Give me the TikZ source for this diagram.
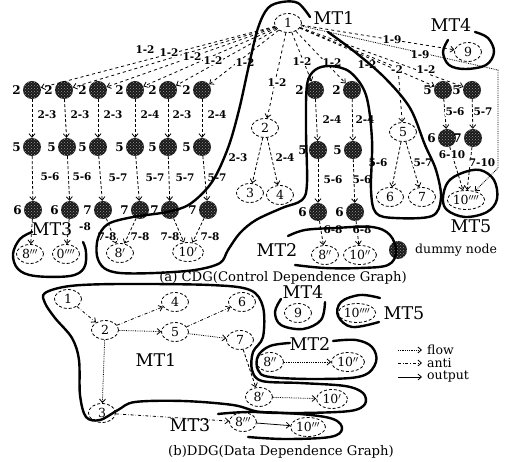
\documentclass[tikz,border=0pt]{standalone}
\usepackage{fontspec}
\setmainfont{DejaVu Serif}
\usetikzlibrary{shapes.geometric,arrows.meta,patterns}
\begin{document}
\begin{tikzpicture}[x=1pt,y=-1pt,
  real/.style={draw, densely dashed, thick, ellipse, minimum width=27pt, minimum height=19pt, inner sep=0pt, font=\fontsize{12.5}{12.5}\selectfont},
  dum/.style={circle, minimum size=18pt, inner sep=0pt, preaction={fill=black!90}, pattern=crosshatch dots, pattern color=black!40},
  dl/.style={font=\bfseries\fontsize{12}{12}\selectfont, inner sep=0pt},
  el/.style={font=\bfseries\fontsize{10.5}{11}\selectfont, inner sep=0pt},
  mt/.style={font=\fontsize{17.5}{18}\selectfont, inner sep=0pt},
  captext/.style={font=\fontsize{13.2}{13}\selectfont, inner sep=0pt},
  tip/.style={-{Straight Barb[length=3.5pt,width=6pt]}},
  cedge/.style={dashed, tip, thick},
  vedge/.style={densely dashed, tip, thick},
  outl/.style={line width=2.4pt, line cap=round, line join=round},
  flow/.style={densely dotted, tip, thick},
  anti/.style={dash dot, tip, thick},
  output/.style={solid, tip, thick}]
\useasboundingbox (0,0) rectangle (515,462);
% ---------------- CDG real nodes
\node[real] (n1) at (288,23) {1};
\node[mt] (mt1a) at (334,18) {MT1};
\node[real] (n2) at (265,128) {2};
\node[real] (n3) at (250,193) {3};
\node[real] (n4) at (280,195) {4};
\node[real] (n5) at (403,132) {5};
\node[real] (n6) at (390,197) {6};
\node[real] (n7) at (422,197) {7};
\node[real] (n9) at (468,52) {9};
\node[mt] (mt4a) at (451,25) {MT4};
\node[real,minimum width=36pt] (n10q) at (466,200) {10$''''$};
\node[mt] (mt5a) at (471,226) {MT5};
\node[real] (c8p) at (120,253) {8$'$};
\node[real,minimum width=31pt] (c10p) at (188,252) {10$'$};
\node[real] (m3a) at (30,254) {8$'''$};
\node[real] (m3b) at (66,254) {0$''''$};
\node[mt] (mt3a) at (52,229) {MT3};
\node[real] (m2a) at (325,255) {8$''$};
\node[real,minimum width=33pt] (m2b) at (360,255) {10$''$};
\node[mt] (mt2a) at (277,250) {MT2};
% ---------------- dummy nodes
\foreach \n/\x/\y/\l in {A1/32/90/2,A2/64/90/2,A3/98/90/2,A4/135/90/2,A5/168/90/2,A6/202/90/2,A7/315/90/2,A8/352/90/2,
  B1/32/147/5,B2/67/147/5,B3/98/147/5,B4/135/147/5,B5/168/147/5,B6/202/147/5,B7/318/150/5,B8/353/150/5,
  C1/33/210/6,C2/70/210/6,C3/103/210/7,C4/140/210/7,C5/170/210/7,C6/208/210/7,C7/318/212/6,C8/355/212/6,
  R1/443/90/5,R2/472/90/5,R3/447/138/6,R4/473/138/7}
  \node[dum,label={[dl,label distance=2pt]left:\l}] (\n) at (\x,\y) {};
\node[dum] (leg) at (398,250) {};
\node[anchor=west,font=\fontsize{12.5}{12}\selectfont,inner sep=0pt] (legt) at (415,250) {dummy node};
% ---------------- CDG edges
\coordinate (k5) at (398,68);
\coordinate (k10a) at (498,70);
\coordinate (k10b) at (498,168);
\foreach \t in {A1,A2,A3,A4,A5,A6,A7,A8,R1,R2} \draw[cedge] (n1) -- (\t);
\draw[cedge] (n1) -- (n2);
\draw[cedge] (n1) -- (n9);
\draw[cedge] (n1) -- (k5) -- (n5);
\draw[cedge,densely dotted] (n1) -- (k10a) -- (k10b) -- (n10q);
\foreach \a/\b in {A1/B1,A2/B2,A3/B3,A4/B4,A5/B5,A6/B6,A7/B7,A8/B8,
  B1/C1,B2/C2,B3/C3,B4/C4,B5/C5,B6/C6,B7/C7,B8/C8,
  C1/m3a,C2/m3b,C3/c8p,C4/c8p,C5/c10p,C6/c10p,C7/m2a,C8/m2b,
  n2/n3,n2/n4,n5/n6,n5/n7,R1/R3,R2/R4,R3/n10q,R4/n10q}
  \draw[vedge] (\a) -- (\b);
% ---------------- CDG edge labels
\foreach \x/\y/\t [count=\i] in {145/50/1-2,169/53/1-2,192/57/1-2,213/61/1-2,245/63/1-2,277/83/1-2,
  302/62/1-2,332/63/1-2,367/65/1-2,397/70/-2,426/70/1-2,392/40/1-9,420/55/1-9,
  47/115/2-3,80/115/2-3,113/115/2-3,150/115/2-4,182/115/2-3,217/115/2-4,332/120/2-4,365/120/2-4,
  238/158/2-3,285/158/2-4,
  50/177/5-6,82/177/5-6,118/178/5-7,155/178/5-7,185/178/5-7,217/178/5-7,333/180/5-6,362/180/5-6,
  378/163/5-6,423/163/5-7,455/112/5-6,483/112/5-7,452/155/6-10,482/163/7-10,
  107/237/7-8,140/237/7-8,170/237/7-8,210/237/7-8,85/227/-8,333/230/6-8,362/230/6-8}
  \node[el,fill=white,inner sep=0.3pt] (L\i) at (\x,\y) {\t};
% ---------------- CDG outlines
\draw[outl] plot[smooth,tension=0.55] coordinates {(310,17) (298,3) (282,2) (268,8) (258,28) (249,65) (239,110) (228,148) (212,182) (190,204) (167,212) (133,217) (108,224) (98,238) (97,256) (104,268) (120,273) (155,273) (195,270) (220,263) (228,250) (240,233) (256,220) (282,208) (302,200) (307,183) (306,130) (307,85) (315,70) (330,66) (350,72) (366,95) (372,140) (371,190) (376,213) (395,218) (432,216) (441,198) (436,170) (425,145) (410,108) (385,78) (355,52) (328,32)};
\draw[outl] plot[smooth,tension=0.6] coordinates {(288,236) (305,230) (335,228) (372,227) (390,235) (396,252) (388,265) (360,268) (325,268) (295,265)};
\draw[outl] plot[smooth,tension=0.6] coordinates {(32,232) (20,239) (13,254) (18,269) (35,276) (70,276) (84,268) (86,252) (83,242)};
\draw[outl] plot[smooth,tension=0.6] coordinates {(475,32) (488,38) (494,52) (486,65) (465,69) (449,65) (443,52) (448,40)};
\draw[outl] plot[smooth cycle,tension=0.6] coordinates {(443,198) (448,182) (462,173) (480,170) (494,180) (497,199) (487,212) (465,217) (447,210)};
\node[captext] (capa) at (283,278) {(a) CDG(Control Dependence Graph)};
% ---------------- DDG nodes
\node[real] (e1) at (68,299) {1};
\node[real] (e2) at (105,330) {2};
\node[real] (e3) at (102,413) {3};
\node[real] (e4) at (175,302) {4};
\node[real] (e5) at (175,332) {5};
\node[real] (e6) at (242,302) {6};
\node[real] (e7) at (240,340) {7};
\node[real] (e8p) at (259,397) {8$'$};
\node[real,minimum width=31pt] (e10p) at (332,399) {10$'$};
\node[real] (e9) at (298,313) {9};
\node[real,minimum width=36pt] (e10q) at (357,313) {10$''''$};
\node[real] (e8b) at (270,362) {8$''$};
\node[real,minimum width=33pt] (e10b) at (348,362) {10$''$};
\node[real] (e8c) at (243,422) {8$'''$};
\node[real,minimum width=35pt] (e10c) at (308,427) {10$'''$};
\node[mt] (mt1b) at (156,360) {MT1};
\node[mt] (mt4b) at (303,292) {MT4};
\node[mt] (mt5b) at (404,313) {MT5};
\node[mt] (mt2b) at (310,344) {MT2};
\node[mt] (mt3b) at (190,425) {MT3};
% ---------------- DDG edges
\draw[anti] (e1) -- (e2);
\draw[anti] (e2) -- (e4);
\draw[flow] (e2) -- (e5);
\draw[flow] (e2) -- (e3);
\draw[anti] (e5) -- (e6);
\draw[flow] (e5) -- (e7);
\draw[vedge] (e7) -- (e8p);
\draw[anti] (e3) -- (e8c);
\draw[flow] (e8p) -- (e10p);
\draw[flow] (e8b) -- (e10b);
\draw[output] (e8c) -- (e10c);
% ---------------- DDG outlines
\draw[outl] plot[smooth cycle,tension=0.55] coordinates {(45,293) (70,286) (120,284) (210,285) (250,290) (263,307) (263,337) (253,352) (252,370) (262,381) (300,383) (345,386) (363,393) (365,404) (350,411) (300,413) (260,412) (233,405) (183,401) (135,402) (118,410) (100,420) (86,417) (80,395) (79,360) (72,338) (55,318) (45,303)};
\draw[outl] plot[smooth,tension=0.6] coordinates {(290,343) (270,346) (258,356) (258,370) (270,377) (320,379) (362,376) (376,362) (372,347) (356,340) (333,341)};
\draw[outl] plot[smooth,tension=0.6] coordinates {(218,414) (250,412) (300,414) (333,419) (342,429) (330,437) (285,439) (248,437)};
\draw[outl] plot[smooth,tension=0.6] coordinates {(281,299) (275,312) (281,325) (303,329) (321,320) (325,302)};
\draw[outl] plot[smooth,tension=0.6] coordinates {(379,322) (352,327) (338,316) (341,302) (360,295) (380,298)};
% ---------------- legend
\coordinate (lf1) at (398,350); \coordinate (lf2) at (422,350);
\coordinate (la1) at (398,363); \coordinate (la2) at (422,363);
\coordinate (lo1) at (398,377); \coordinate (lo2) at (422,377);
\draw[flow] (lf1) -- (lf2);
\draw[anti] (la1) -- (la2);
\draw[output] (lo1) -- (lo2);
\node[anchor=west,font=\fontsize{12.5}{12}\selectfont,inner sep=0pt] (tf) at (427,350) {flow};
\node[anchor=west,font=\fontsize{12.5}{12}\selectfont,inner sep=0pt] (ta) at (427,363) {anti};
\node[anchor=west,font=\fontsize{12.5}{12}\selectfont,inner sep=0pt] (to) at (427,377) {output};
\node[captext] (capb) at (281,452) {(b)DDG(Data Dependence Graph)};
\end{tikzpicture}
\end{document}
